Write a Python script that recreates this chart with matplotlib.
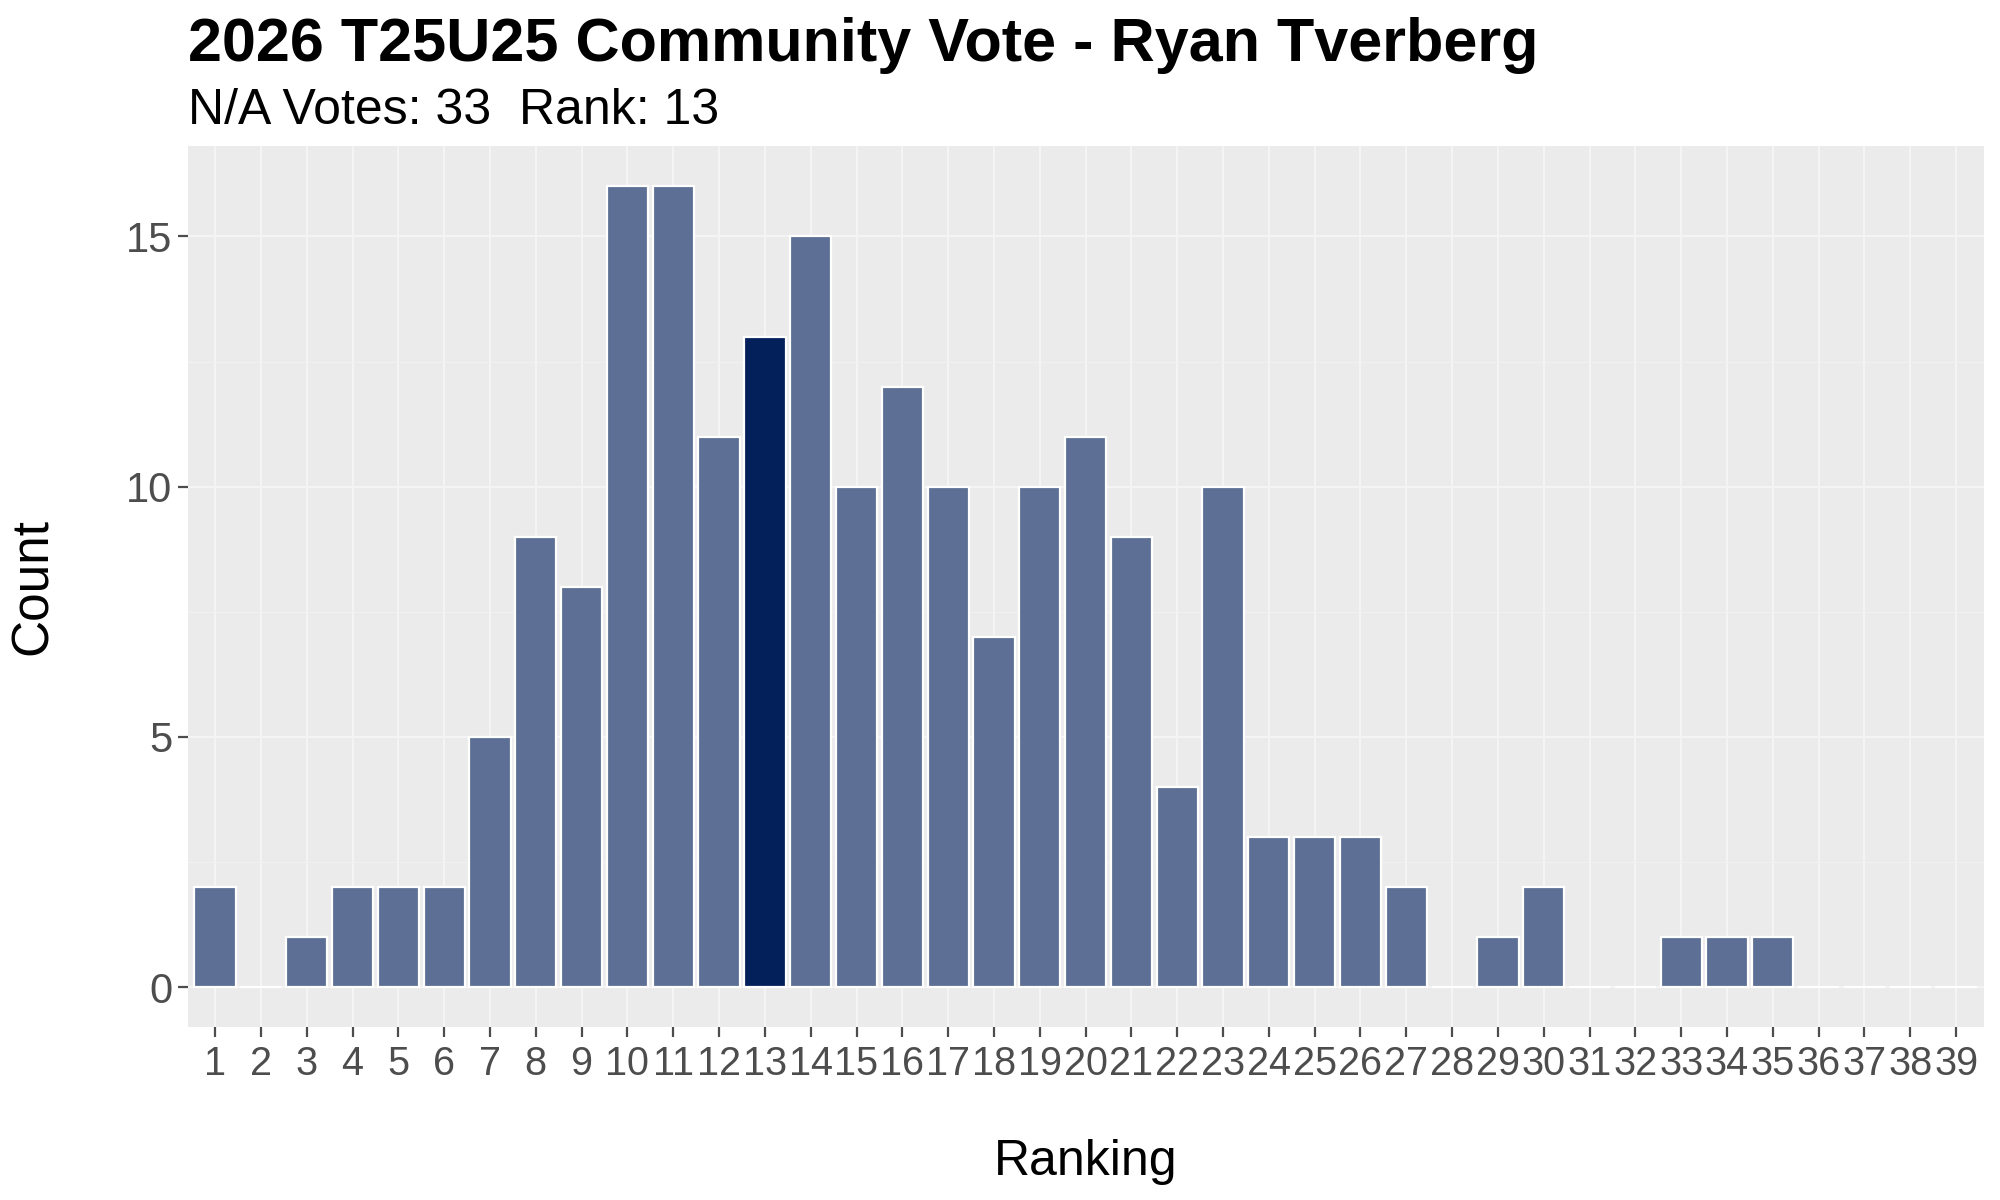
import matplotlib
matplotlib.use("Agg")
import matplotlib.pyplot as plt
import numpy as np

plt.rcParams['font.family'] = ['Liberation Sans', 'DejaVu Sans']

# votes per ranking slot
rankings = list(range(1, 40))
counts = [2, 0, 1, 2, 2, 2, 5, 9, 8, 16, 16, 11, 13, 15, 10, 12, 10, 7, 10, 11,
          9, 4, 10, 3, 3, 3, 2, 0, 1, 2, 0, 0, 1, 1, 1, 0, 0, 0, 0]
final_rank = 13
na_votes = 33
player = "Ryan Tverberg"

base_color = "#5D6F94"
highlight_color = "#03205A"

fig = plt.figure(figsize=(20, 12), dpi=100)
ax = fig.add_axes([0.0938, 0.144, 0.898, 0.734])

colors = [highlight_color if r == final_rank else base_color for r in rankings]
ax.bar(rankings, counts, width=0.9, color=colors, edgecolor="white", linewidth=1.6, zorder=3)

ax.set_facecolor("#EBEBEB")
ax.set_xlim(0.4, 39.6)
ax.set_ylim(-0.8, 16.8)
ax.set_xticks(rankings)
ax.set_xticklabels([str(r) for r in rankings])
ax.set_yticks([0, 5, 10, 15])
ax.set_yticks([2.5, 7.5, 12.5], minor=True)
ax.grid(which="major", color="#F4F4F4", linewidth=1.6, zorder=0)
ax.grid(which="minor", axis="y", color="#F1F1F1", linewidth=0.9, zorder=0)
ax.set_axisbelow(True)
for s in ax.spines.values():
    s.set_visible(False)

ax.tick_params(axis="x", which="major", labelsize=28.5, colors="#4D4D4D", length=7, width=1.6, pad=6)
ax.tick_params(axis="y", which="major", labelsize=30, colors="#4D4D4D", length=7, width=1.6, pad=4)
ax.tick_params(which="minor", length=0)
for t in ax.get_xticklines() + ax.get_yticklines():
    t.set_color("#333333")

ax.set_xlabel("Ranking", fontsize=36, labelpad=40)
ax.set_ylabel("Count", fontsize=37, labelpad=49)

fig.text(0.0938, 0.949, f"2026 T25U25 Community Vote - {player}", fontsize=44,
         fontweight="bold", ha="left", va="baseline")
fig.text(0.0938, 0.897, f"N/A Votes: {na_votes}  Rank: {final_rank}", fontsize=36,
         ha="left", va="baseline")

fig.savefig("out.png", dpi=100)
